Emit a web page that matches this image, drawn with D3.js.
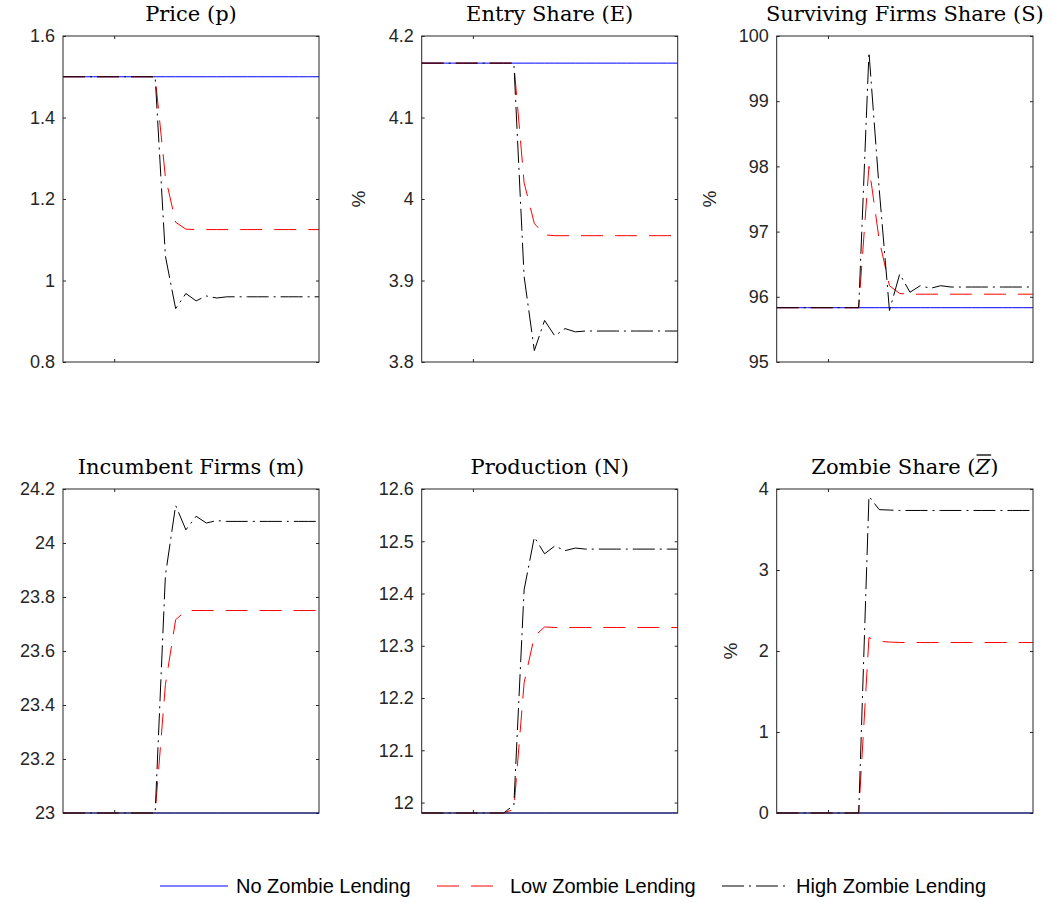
<!DOCTYPE html>
<html>
<head>
<meta charset="utf-8">
<script src="https://cdn.jsdelivr.net/npm/d3@7"></script>
<style>
  html, body { margin: 0; padding: 0; background: #fff; }
  svg { display: block; }
</style>
</head>
<body>
<svg id="chart" width="1052" height="903"></svg>
<script>
// ---------------- DATA ----------------
const periods = [0,1,2,3,4,5,6,7,8,9,10,11,12,13,14,15,16,17,18,19,20,21,22,23,24,25];
const seriesNames = ["No Zombie Lending", "Low Zombie Lending", "High Zombie Lending"];

const priceNone = [1.5,1.5,1.5,1.5,1.5,1.5,1.5,1.5,1.5,1.5,1.5,1.5,1.5,1.5,1.5,1.5,1.5,1.5,1.5,1.5,1.5,1.5,1.5,1.5,1.5,1.5];
const priceLow  = [1.5,1.5,1.5,1.5,1.5,1.5,1.5,1.5,1.5,1.5,1.254,1.143,1.126,1.125,1.125,1.125,1.125,1.125,1.125,1.125,1.125,1.125,1.125,1.125,1.125,1.125];
const priceHigh = [1.5,1.5,1.5,1.5,1.5,1.5,1.5,1.5,1.5,1.5,1.06,0.931,0.968,0.950,0.962,0.957,0.960,0.960,0.960,0.960,0.960,0.960,0.960,0.960,0.960,0.960];

const entryNone = [4.1667,4.1667,4.1667,4.1667,4.1667,4.1667,4.1667,4.1667,4.1667,4.1667,4.1667,4.1667,4.1667,4.1667,4.1667,4.1667,4.1667,4.1667,4.1667,4.1667,4.1667,4.1667,4.1667,4.1667,4.1667,4.1667];
const entryLow  = [4.1667,4.1667,4.1667,4.1667,4.1667,4.1667,4.1667,4.1667,4.1667,4.1667,4.02,3.970,3.956,3.955,3.955,3.955,3.955,3.955,3.955,3.955,3.955,3.955,3.955,3.955,3.955,3.955];
const entryHigh = [4.1667,4.1667,4.1667,4.1667,4.1667,4.1667,4.1667,4.1667,4.1667,4.1667,3.905,3.814,3.851,3.832,3.841,3.837,3.838,3.838,3.838,3.838,3.838,3.838,3.838,3.838,3.838,3.838];

const survNone = [95.833,95.833,95.833,95.833,95.833,95.833,95.833,95.833,95.833,95.833,95.833,95.833,95.833,95.833,95.833,95.833,95.833,95.833,95.833,95.833,95.833,95.833,95.833,95.833,95.833,95.833];
const survLow  = [95.833,95.833,95.833,95.833,95.833,95.833,95.833,95.833,95.833,98.0,96.87,96.17,96.05,96.04,96.04,96.04,96.04,96.04,96.04,96.04,96.04,96.04,96.04,96.04,96.04,96.04];
const survHigh = [95.833,95.833,95.833,95.833,95.833,95.833,95.833,95.833,95.833,99.75,97.65,95.79,96.35,96.07,96.17,96.13,96.17,96.15,96.15,96.15,96.15,96.15,96.15,96.15,96.15,96.15];

const incNone = [23,23,23,23,23,23,23,23,23,23,23,23,23,23,23,23,23,23,23,23,23,23,23,23,23,23];
const incLow  = [23,23,23,23,23,23,23,23,23,23,23.475,23.716,23.749,23.75,23.75,23.75,23.75,23.75,23.75,23.75,23.75,23.75,23.75,23.75,23.75,23.75];
const incHigh = [23,23,23,23,23,23,23,23,23,23,23.88,24.139,24.049,24.099,24.074,24.083,24.08,24.08,24.08,24.08,24.08,24.08,24.08,24.08,24.08,24.08];

const prodNone = [11.98,11.98,11.98,11.98,11.98,11.98,11.98,11.98,11.98,11.98,11.98,11.98,11.98,11.98,11.98,11.98,11.98,11.98,11.98,11.98,11.98,11.98,11.98,11.98,11.98,11.98];
const prodLow  = [11.98,11.98,11.98,11.98,11.98,11.98,11.98,11.98,11.98,11.987,12.229,12.318,12.336,12.335,12.335,12.335,12.335,12.335,12.335,12.335,12.335,12.335,12.335,12.335,12.335,12.335];
const prodHigh = [11.98,11.98,11.98,11.98,11.98,11.98,11.98,11.98,11.98,11.995,12.407,12.508,12.476,12.491,12.482,12.487,12.485,12.485,12.485,12.485,12.485,12.485,12.485,12.485,12.485,12.485];

const zombNone = [0,0,0,0,0,0,0,0,0,0,0,0,0,0,0,0,0,0,0,0,0,0,0,0,0,0];
const zombLow  = [0,0,0,0,0,0,0,0,0,2.165,2.12,2.11,2.105,2.105,2.105,2.105,2.105,2.105,2.105,2.105,2.105,2.105,2.105,2.105,2.105,2.105];
const zombHigh = [0,0,0,0,0,0,0,0,0,3.91,3.745,3.74,3.735,3.735,3.735,3.735,3.735,3.735,3.735,3.735,3.735,3.735,3.735,3.735,3.735,3.735];

const xTicks = [5];

const priceTicks = [0.8,1,1.2,1.4,1.6];
const priceTickLabels = ["0.8","1","1.2","1.4","1.6"];
const entryTicks = [3.8,3.9,4,4.1,4.2];
const entryTickLabels = ["3.8","3.9","4","4.1","4.2"];
const survTicks = [95,96,97,98,99,100];
const survTickLabels = ["95","96","97","98","99","100"];
const incTicks = [23,23.2,23.4,23.6,23.8,24,24.2];
const incTickLabels = ["23","23.2","23.4","23.6","23.8","24","24.2"];
const prodTicks = [12,12.1,12.2,12.3,12.4,12.5,12.6];
const prodTickLabels = ["12","12.1","12.2","12.3","12.4","12.5","12.6"];
const zombTicks = [0,1,2,3,4];
const zombTickLabels = ["0","1","2","3","4"];

const titles = ["Price (p)", "Entry Share (E)", "Surviving Firms Share (S)", "Incumbent Firms (m)", "Production (N)", "Zombie Share ("];
const unitLabel = "%";

// ---------------- LAYOUT / STYLE ----------------
const svg = d3.select("#chart");
const cols = [{l:63, r:319}, {l:421.7, r:677.7}, {l:776.7, r:1033}];
const rows = [{t:36, b:362}, {t:489, b:813}];
const axisColor = "#262626";
const styles = [
  {color:"#0000ff", dash:null},
  {color:"#ff0000", dash:"22,12"},
  {color:"#000000", dash:"22,5,2,5"}
];

const panels = [
  {title:titles[0], series:[priceNone,priceLow,priceHigh], domain:[0.8,1.6], ticks:priceTicks, labels:priceTickLabels, col:0, row:0, unitOff:null},
  {title:titles[1], series:[entryNone,entryLow,entryHigh], domain:[3.8,4.2], ticks:entryTicks, labels:entryTickLabels, col:1, row:0, unitOff:63},
  {title:titles[2], series:[survNone,survLow,survHigh], domain:[95,100], ticks:survTicks, labels:survTickLabels, col:2, row:0, unitOff:67},
  {title:titles[3], series:[incNone,incLow,incHigh], domain:[23,24.2], ticks:incTicks, labels:incTickLabels, col:0, row:1, unitOff:null},
  {title:titles[4], series:[prodNone,prodLow,prodHigh], domain:[11.98,12.6], ticks:prodTicks, labels:prodTickLabels, col:1, row:1, unitOff:null},
  {title:titles[5], series:[zombNone,zombLow,zombHigh], domain:[0,4], ticks:zombTicks, labels:zombTickLabels, col:2, row:1, unitOff:46, zbar:true}
];

panels.forEach(p => {
  const c = cols[p.col], r = rows[p.row];
  const x = d3.scaleLinear().domain([periods[0], periods[periods.length-1]]).range([c.l, c.r]);
  const y = d3.scaleLinear().domain(p.domain).range([r.b, r.t]);
  const g = svg.append("g");

  const fmt = v => p.labels[p.ticks.indexOf(v)];
  const ax = g.append("g").attr("transform", `translate(${c.l},0)`)
    .call(d3.axisLeft(y).tickValues(p.ticks).tickFormat(fmt).tickSizeInner(-3).tickSizeOuter(0).tickPadding(8));
  const ax2 = g.append("g").attr("transform", `translate(${c.r},0)`)
    .call(d3.axisRight(y).tickValues(p.ticks).tickFormat("").tickSizeInner(-3).tickSizeOuter(0));
  const ax3 = g.append("g").attr("transform", `translate(0,${r.b})`)
    .call(d3.axisBottom(x).tickValues(xTicks).tickFormat("").tickSizeInner(-3).tickSizeOuter(0));
  const ax4 = g.append("g").attr("transform", `translate(0,${r.t})`)
    .call(d3.axisTop(x).tickValues(xTicks).tickFormat("").tickSizeInner(-3).tickSizeOuter(0));
  [ax, ax2, ax3, ax4].forEach(a => {
    a.select(".domain").remove();
    a.selectAll("line").attr("stroke", axisColor);
    a.selectAll("text").attr("fill", axisColor)
      .style("font-family", "'Liberation Sans', Arial, Helvetica, sans-serif")
      .style("font-size", "18px");
  });

  const line = d3.line().x((d,i) => x(periods[i])).y(d => y(d));
  p.series.forEach((s, i) => {
    g.append("path").datum(s).attr("d", line)
      .attr("fill", "none").attr("stroke", styles[i].color).attr("stroke-width", 1)
      .attr("stroke-dasharray", styles[i].dash);
  });

  g.append("rect").attr("x", c.l).attr("y", r.t).attr("width", c.r - c.l).attr("height", r.b - r.t)
    .attr("fill", "none").attr("stroke", axisColor).attr("stroke-width", 1);

  const cx = (c.l + c.r) / 2;
  const tt = svg.append("text").attr("x", cx).attr("y", r.t - 15)
    .attr("text-anchor", "middle")
    .style("font-family", "'DejaVu Serif', serif").style("font-size", "21px").attr("fill", "#000")
    .text(p.title);
  if (p.zbar) {
    tt.append("tspan").style("font-style", "italic").text("Z");
    tt.append("tspan").text(")");
    const node = tt.node();
    const idx = p.title.length;
    const x0 = node.getStartPositionOfChar(idx).x;
    const x1 = node.getEndPositionOfChar(idx).x;
    svg.append("line").attr("x1", x0 + 1).attr("x2", x1 + 1)
      .attr("y1", r.t - 34).attr("y2", r.t - 34)
      .attr("stroke", "#000").attr("stroke-width", 1.3);
  }

  if (p.unitOff !== null) {
    const ux = c.l - p.unitOff, uy = (r.t + r.b) / 2;
    svg.append("text").attr("transform", `translate(${ux},${uy}) rotate(-90)`)
      .attr("text-anchor", "middle").attr("dy", "0.35em")
      .style("font-family", "'Liberation Sans', Arial, sans-serif").style("font-size", "19px")
      .attr("fill", axisColor).text(unitLabel);
  }
});

// ---------------- LEGEND ----------------
const legendItems = [
  {x1:160, x2:228, tx:236},
  {x1:437, x2:493, tx:510},
  {x1:722, x2:790, tx:796}
];
const ly = 886;
legendItems.forEach((li, i) => {
  svg.append("line").attr("x1", li.x1).attr("x2", li.x2).attr("y1", ly).attr("y2", ly)
    .attr("stroke", styles[i].color).attr("stroke-width", 1).attr("stroke-dasharray", styles[i].dash);
  svg.append("text").attr("x", li.tx).attr("y", ly).attr("dy", "0.35em")
    .style("font-family", "'Liberation Sans', Arial, sans-serif").style("font-size", "20px")
    .attr("fill", "#000").text(seriesNames[i]);
});
</script>
</body>
</html>
